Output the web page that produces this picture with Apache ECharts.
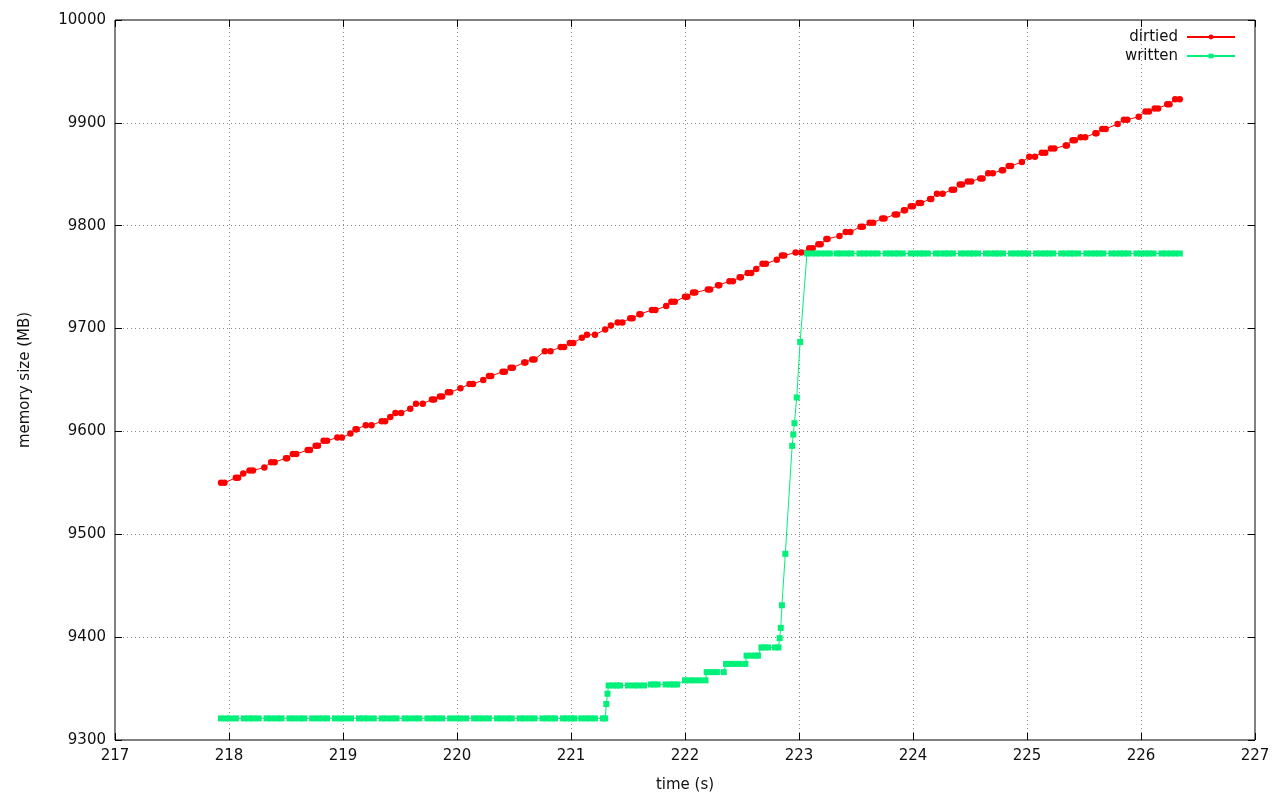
<!DOCTYPE html>
<html><head><meta charset="utf-8">
<script src="https://cdn.jsdelivr.net/npm/echarts@6/dist/echarts.min.js"></script>
<style>html,body{margin:0;padding:0;background:#fff}#c{width:1280px;height:800px}</style>
</head><body><div id="c"></div>
<script>
const seriesNames = ['dirtied', 'written'];
const xAxisTitle = 'time (s)';
const yAxisTitle = 'memory size (MB)';
const xMin = 217, xMax = 227, xStep = 1;
const yMin = 9300, yMax = 10000, yStep = 100;

// [time (s), memory (MB)]
const dirtied = [
[217.93,9550],[217.96,9550],[218.06,9555],[218.08,9555],[218.125,9559],
[218.18,9562],[218.21,9562],[218.31,9565],[218.37,9570],[218.40,9570],
[218.50,9574],[218.51,9574],[218.56,9578],[218.59,9578],[218.69,9582],[218.71,9582],
[218.76,9586],[218.78,9586],[218.83,9591],[218.86,9591],[218.95,9594],[218.99,9594],
[219.065,9598],[219.11,9602],[219.12,9602],[219.20,9606],[219.25,9606],
[219.34,9610],[219.37,9610],[219.415,9614],[219.46,9618],[219.51,9618],
[219.59,9622],[219.64,9627],[219.70,9627],[219.78,9631],[219.80,9631],
[219.85,9634],[219.87,9634],[219.92,9638],[219.94,9638],[220.03,9642],
[220.11,9646],[220.14,9646],[220.23,9650],[220.28,9654],[220.30,9654],
[220.40,9658],[220.42,9658],[220.47,9662],[220.49,9662],[220.59,9667],[220.60,9667],
[220.66,9670],[220.68,9670],[220.77,9678],[220.82,9678],[220.91,9682],[220.94,9682],
[220.99,9686],[221.02,9686],[221.095,9691],[221.14,9694],[221.21,9694],
[221.30,9699],[221.35,9703],[221.41,9706],[221.45,9706],[221.52,9710],[221.54,9710],
[221.60,9714],[221.61,9714],[221.71,9718],[221.74,9718],[221.835,9722],
[221.88,9726],[221.91,9726],[222.00,9731],[222.02,9731],[222.07,9735],[222.09,9735],
[222.20,9738],[222.22,9738],[222.29,9742],[222.30,9742],[222.39,9746],[222.42,9746],
[222.48,9750],[222.49,9750],[222.55,9754],[222.58,9754],[222.625,9758],
[222.68,9763],[222.71,9763],[222.805,9767],[222.85,9771],[222.87,9771],
[222.97,9774],[223.02,9774],[223.09,9778],[223.12,9778],[223.17,9782],[223.19,9782],
[223.24,9787],[223.25,9787],[223.355,9790],[223.41,9794],[223.45,9794],
[223.54,9799],[223.56,9799],[223.62,9803],[223.65,9803],[223.73,9807],[223.75,9807],
[223.84,9811],[223.86,9811],[223.92,9815],[223.93,9815],[223.98,9819],[224.00,9819],
[224.05,9822],[224.07,9822],[224.15,9826],[224.16,9826],[224.21,9831],[224.26,9831],
[224.34,9835],[224.36,9835],[224.41,9840],[224.43,9840],[224.48,9843],[224.51,9843],
[224.59,9846],[224.61,9846],[224.66,9851],[224.70,9851],[224.78,9854],[224.79,9854],
[224.84,9858],[224.86,9858],[224.955,9862],[225.02,9867],[225.07,9867],
[225.13,9871],[225.16,9871],[225.21,9875],[225.24,9875],[225.34,9878],[225.35,9878],
[225.40,9883],[225.42,9883],[225.47,9886],[225.51,9886],[225.60,9890],[225.61,9890],
[225.66,9894],[225.69,9894],[225.795,9899],[225.85,9903],[225.88,9903],
[225.98,9906],[226.04,9911],[226.07,9911],[226.12,9914],[226.15,9914],
[226.23,9918],[226.25,9918],[226.30,9923],[226.34,9923]
];

const written = [
[217.93,9321],[217.97,9321],[218.01,9321],[218.06,9321],
[218.13,9321],[218.17,9321],[218.21,9321],[218.26,9321],
[218.33,9321],[218.37,9321],[218.42,9321],[218.46,9321],
[218.53,9321],[218.57,9321],[218.62,9321],[218.66,9321],
[218.73,9321],[218.78,9321],[218.82,9321],[218.86,9321],
[218.93,9321],[218.98,9321],[219.02,9321],[219.07,9321],
[219.14,9321],[219.18,9321],[219.22,9321],[219.27,9321],
[219.34,9321],[219.38,9321],[219.43,9321],[219.47,9321],
[219.54,9321],[219.58,9321],[219.63,9321],[219.67,9321],
[219.74,9321],[219.79,9321],[219.83,9321],[219.87,9321],
[219.94,9321],[219.99,9321],[220.03,9321],[220.08,9321],
[220.15,9321],[220.19,9321],[220.23,9321],[220.28,9321],
[220.35,9321],[220.39,9321],[220.44,9321],[220.48,9321],
[220.55,9321],[220.59,9321],[220.64,9321],[220.68,9321],
[220.75,9321],[220.79,9321],[220.83,9321],[220.86,9321],
[220.93,9321],[220.96,9321],[221.00,9321],[221.03,9321],
[221.09,9321],[221.13,9321],[221.17,9321],[221.21,9321],
[221.28,9321],[221.30,9321],
[221.31,9335],[221.32,9345],
[221.33,9353],[221.37,9353],[221.40,9353],[221.43,9353],
[221.50,9353],[221.55,9353],[221.59,9353],[221.64,9353],
[221.70,9354],[221.73,9354],[221.76,9354],
[221.83,9354],[221.87,9354],[221.90,9354],[221.93,9354],
[222.00,9358],[222.04,9358],[222.08,9358],[222.13,9358],[222.18,9358],
[222.19,9366],[222.23,9366],[222.28,9366],[222.34,9366],
[222.36,9374],[222.40,9374],[222.44,9374],[222.48,9374],[222.53,9374],
[222.54,9382],[222.58,9382],[222.62,9382],[222.64,9382],
[222.67,9390],[222.70,9390],[222.73,9390],[222.79,9390],[222.82,9390],
[222.83,9399],[222.84,9409],[222.85,9431],[222.88,9481],
[222.94,9586],[222.95,9597],[222.96,9608],[222.98,9633],[223.01,9687],
[223.07,9773],[223.11,9773],[223.15,9773],[223.19,9773],[223.23,9773],[223.27,9773],
[223.33,9773],[223.37,9773],[223.42,9773],[223.46,9773],
[223.53,9773],[223.57,9773],[223.61,9773],[223.65,9773],[223.69,9773],
[223.76,9773],[223.80,9773],[223.84,9773],[223.87,9773],[223.91,9773],
[223.98,9773],[224.02,9773],[224.06,9773],[224.09,9773],[224.13,9773],
[224.20,9773],[224.24,9773],[224.28,9773],[224.31,9773],[224.35,9773],
[224.42,9773],[224.46,9773],[224.50,9773],[224.53,9773],[224.57,9773],
[224.64,9773],[224.68,9773],[224.72,9773],[224.75,9773],[224.79,9773],
[224.86,9773],[224.90,9773],[224.94,9773],[224.97,9773],[225.01,9773],
[225.08,9773],[225.12,9773],[225.16,9773],[225.19,9773],[225.23,9773],
[225.30,9773],[225.34,9773],[225.38,9773],[225.41,9773],[225.45,9773],
[225.52,9773],[225.56,9773],[225.60,9773],[225.63,9773],[225.67,9773],
[225.74,9773],[225.78,9773],[225.82,9773],[225.85,9773],[225.89,9773],
[225.96,9773],[226.00,9773],[226.04,9773],[226.07,9773],[226.11,9773],
[226.18,9773],[226.22,9773],[226.26,9773],[226.30,9773],[226.34,9773]
];

const FONT = 'DejaVu Sans';
const TXT = '#111';
const gridLine = { show: true, lineStyle: { color: '#888', type: [1, 3], width: 1 } };
const tick = { show: true, inside: true, length: 7, lineStyle: { color: '#000', width: 1 } };
const plain = v => String(v);

const chart = echarts.init(document.getElementById('c'), null, { renderer: 'canvas' });
chart.setOption({
  animation: false,
  backgroundColor: '#fff',
  textStyle: { fontFamily: FONT },
  grid: { left: 115, right: 25, top: 20, bottom: 60, show: true, borderColor: '#000', borderWidth: 1, backgroundColor: 'transparent' },
  legend: {
    data: seriesNames,
    orient: 'vertical',
    right: 44,
    top: 28,
    padding: 0,
    align: 'right',
    itemWidth: 48,
    itemHeight: 6,
    itemGap: 1,
    textStyle: { fontFamily: FONT, fontSize: 15, color: TXT, lineHeight: 18, padding: [0, 4, 0, 0] }
  },
  xAxis: [{
    type: 'value', min: xMin, max: xMax, interval: xStep,
    name: xAxisTitle, nameLocation: 'middle', nameGap: 38,
    nameTextStyle: { fontFamily: FONT, fontSize: 15, color: TXT },
    axisLine: { show: false }, axisTick: tick,
    axisLabel: { fontFamily: FONT, fontSize: 15, color: TXT, margin: 9, formatter: plain },
    splitLine: gridLine
  }, {
    type: 'value', min: xMin, max: xMax, interval: xStep, position: 'top',
    axisLine: { show: false }, axisTick: tick, axisLabel: { show: false }, splitLine: { show: false }
  }],
  yAxis: [{
    type: 'value', min: yMin, max: yMax, interval: yStep,
    name: yAxisTitle, nameLocation: 'middle', nameGap: 82,
    nameTextStyle: { fontFamily: FONT, fontSize: 15, color: TXT },
    axisLine: { show: false }, axisTick: tick,
    axisLabel: { fontFamily: FONT, fontSize: 15, color: TXT, margin: 9, formatter: plain },
    splitLine: gridLine
  }, {
    type: 'value', min: yMin, max: yMax, interval: yStep, position: 'right',
    axisLine: { show: false }, axisTick: tick, axisLabel: { show: false }, splitLine: { show: false }
  }],
  series: [{
    name: seriesNames[0], type: 'line', data: dirtied,
    symbol: 'circle', symbolSize: 6.5, showSymbol: true,
    lineStyle: { color: '#ff0000', width: 1 },
    itemStyle: { color: '#ff0000' },
    emphasis: { disabled: true }
  }, {
    name: seriesNames[1], type: 'line', data: written,
    symbol: 'rect', symbolSize: 6, showSymbol: true,
    lineStyle: { color: '#00f07a', width: 1 },
    itemStyle: { color: '#00f07a' },
    emphasis: { disabled: true }
  }]
});
</script>
</body></html>
